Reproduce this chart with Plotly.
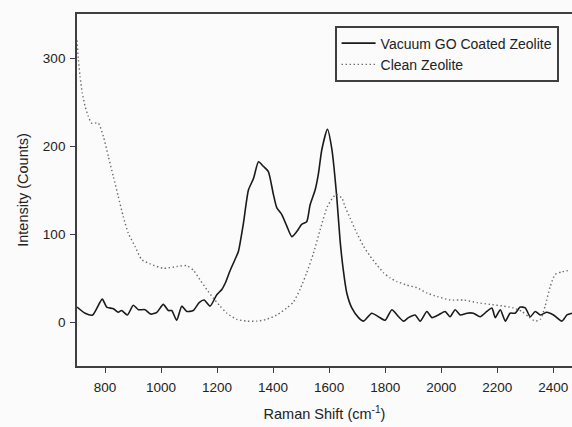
import plotly.graph_objects as go

# Vacuum GO Coated Zeolite (solid)
go_x = [700, 729, 756, 790, 806, 830, 847, 859, 880, 901, 919, 943, 963, 985, 1008, 1026, 1038, 1056,
        1074, 1092, 1115, 1136, 1154, 1175, 1199, 1217, 1229, 1246, 1264, 1276, 1294, 1312, 1330, 1348,
        1365, 1383, 1401, 1413, 1431, 1449, 1467, 1485, 1502, 1520, 1532, 1550, 1562, 1574, 1594, 1610,
        1627, 1639, 1651, 1663, 1681, 1705, 1723, 1752, 1776, 1800, 1824, 1848, 1866, 1883, 1907, 1925,
        1949, 1967, 1990, 2014, 2032, 2050, 2068, 2092, 2115, 2139, 2163, 2181, 2193, 2211, 2229, 2246,
        2264, 2282, 2300, 2318, 2336, 2354, 2377, 2401, 2431, 2449, 2467]
go_y = [17, 10, 8, 26, 17, 15, 11, 13, 8, 19, 14, 14, 9, 11, 20, 13, 13, 2,
        18, 12, 13, 22, 25, 18, 31, 37, 44, 58, 71, 80, 112, 150, 163, 182,
        177, 171, 145, 130, 122, 109, 97, 103, 111, 114, 133, 150, 169, 196, 219, 196,
        143, 93, 58, 33, 16, 5, 1, 10, 6, 2, 14, 6, 1, 5, 8, 1,
        12, 5, 8, 12, 6, 14, 8, 10, 10, 6, 12, 16, 5, 14, 1, 10,
        10, 17, 16, 6, 12, 8, 11, 8, 1, 8, 10]

# Clean Zeolite (dotted)
cz_x = [700, 705, 711, 719, 729, 740, 752, 776, 794, 812, 830, 847, 865, 883, 907, 931, 961, 1008,
        1056, 1092, 1115, 1139, 1163, 1187, 1211, 1235, 1270, 1306, 1342, 1377, 1413, 1449, 1473, 1496,
        1520, 1544, 1568, 1595, 1625, 1645, 1657, 1675, 1699, 1723, 1746, 1770, 1794, 1818, 1842, 1877,
        1913, 1949, 1985, 2032, 2080, 2128, 2175, 2223, 2258, 2288, 2312, 2336, 2354, 2371, 2389, 2407,
        2431, 2461]
cz_y = [320, 298, 279, 260, 245, 234, 226, 226, 211, 188, 165, 143, 120, 101, 86, 71, 66, 61,
        63, 64, 59, 48, 37, 27, 18, 10, 3, 1, 1, 3, 8, 16, 23, 37,
        56, 78, 105, 132, 145, 141, 131, 118, 101, 86, 75, 65, 56, 50, 46, 42,
        39, 33, 29, 25, 25, 22, 20, 18, 16, 12, 6, 1, 3, 18, 40, 54,
        57, 59]

x_ticks = [800, 1000, 1200, 1400, 1600, 1800, 2000, 2200, 2400]
y_ticks = [0, 100, 200, 300]

AX = "#3f3f3f"
BG = "#fbfbfb"
FONT = "Liberation Sans, Arial, sans-serif"

fig = go.Figure()
fig.add_trace(go.Scatter(x=go_x, y=go_y, mode="lines", name="Vacuum GO Coated Zeolite",
                         line=dict(color="#1a1a1a", width=1.6, shape="spline", smoothing=0.6)))
fig.add_trace(go.Scatter(x=cz_x, y=cz_y, mode="lines", name="Clean Zeolite",
                         line=dict(color="#6a6a6a", width=1.4, dash="1.4px,2.6px",
                                   shape="spline", smoothing=0.6)))

fig.update_layout(
    width=572, height=427,
    margin=dict(l=77, r=0, t=14, b=61),
    paper_bgcolor=BG, plot_bgcolor=BG,
    font=dict(family=FONT, color="#222222", size=13.5),
    showlegend=True,
    legend=dict(x=0.9737, y=0.966, xanchor="right", yanchor="top",
                bgcolor=BG, bordercolor=AX, borderwidth=1.6,
                font=dict(size=14, family=FONT, color="#222222"),
                tracegroupgap=0, itemwidth=34),
    xaxis=dict(range=[700, 2467], tickvals=x_ticks, ticks="outside", ticklen=5, tickwidth=1.3,
               tickcolor=AX, showline=True, linecolor=AX, linewidth=1.8, mirror=True,
               showgrid=False, zeroline=False, tickfont=dict(size=13.5), ticklabelstandoff=3,
               title=dict(text="Raman Shift (cm<sup>-1</sup>)", font=dict(size=14.5), standoff=15)),
    yaxis=dict(range=[-50, 350], tickvals=y_ticks, ticks="outside", ticklen=5, tickwidth=1.3,
               tickcolor=AX, showline=True, linecolor=AX, linewidth=1.8, mirror=False,
               showgrid=False, zeroline=False, tickfont=dict(size=13.5), ticklabelstandoff=2,
               title=dict(text="Intensity (Counts)", font=dict(size=14.5), standoff=11)),
)

fig.write_html("out.html")
